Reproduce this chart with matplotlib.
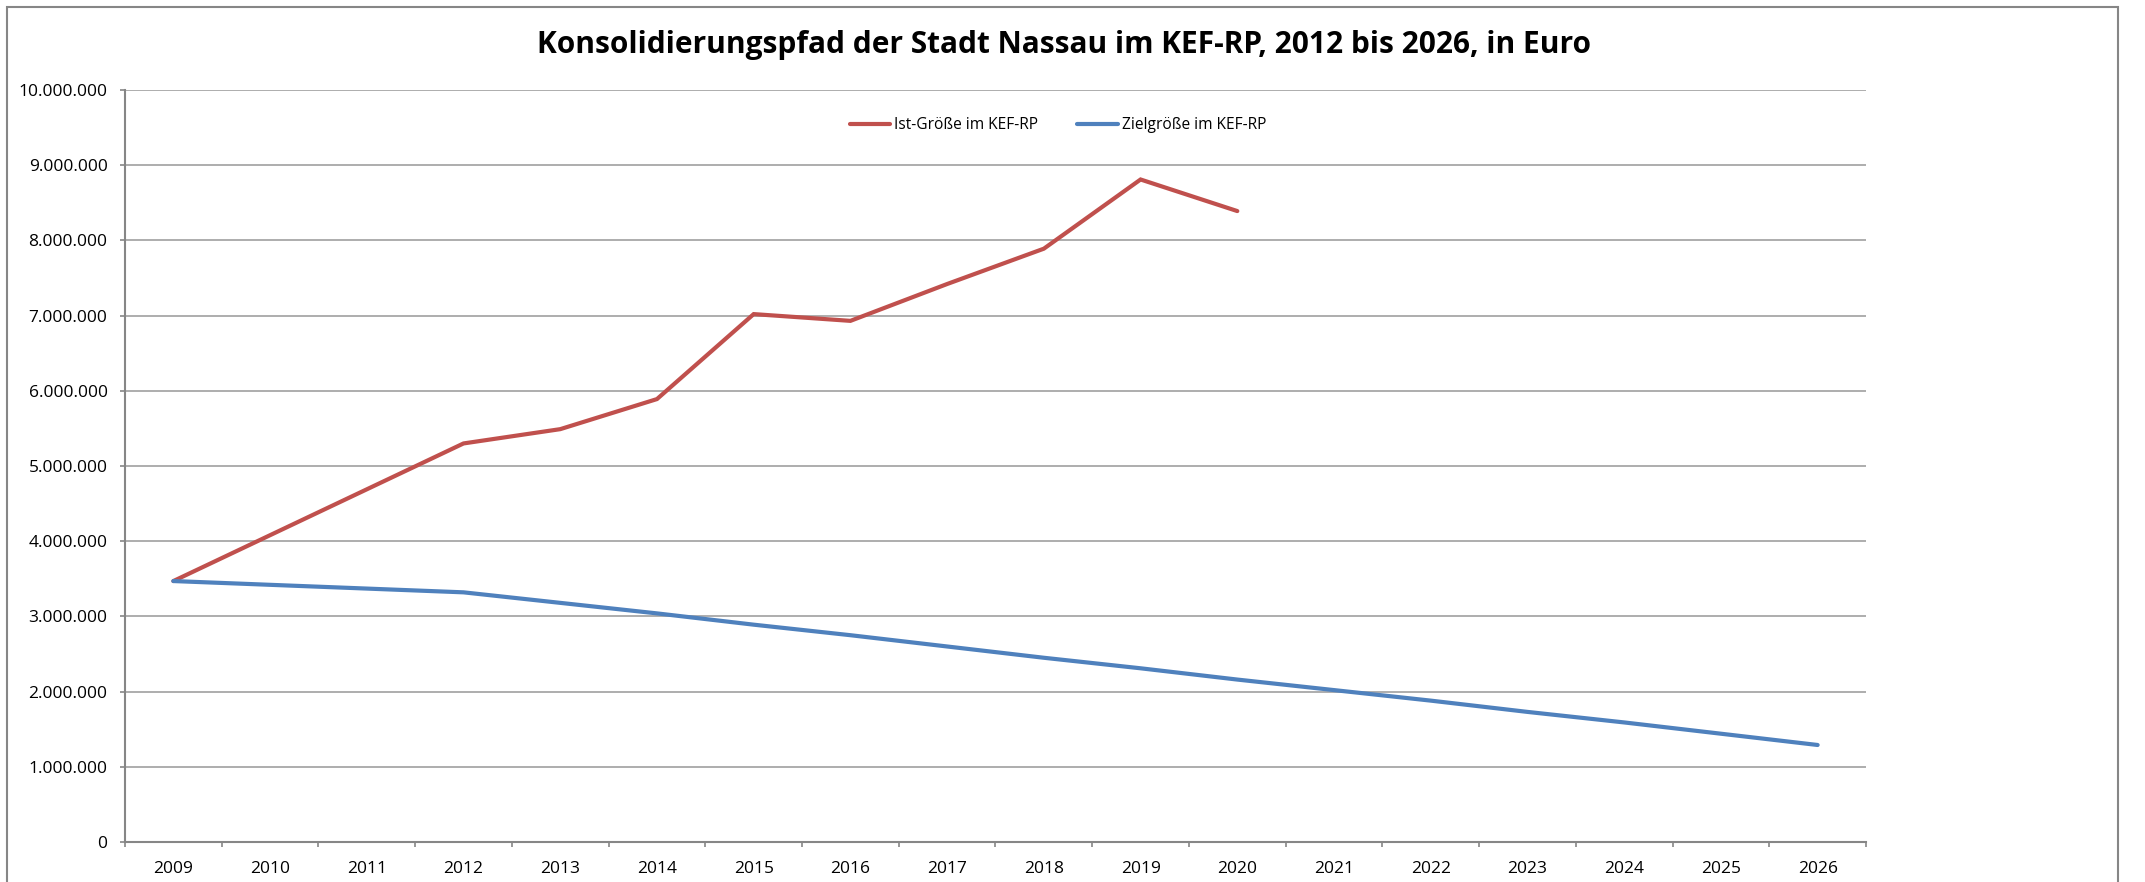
import numpy as np
import matplotlib.pyplot as plt
from matplotlib.patches import Rectangle
from matplotlib.ticker import FuncFormatter, FixedLocator

plt.rcParams['font.family'] = ['Open Sans', 'DejaVu Sans']

years = list(range(2009, 2027))

# Ist-Größe: no values for 2010 and 2011, Excel connects the gap
ist_years = [2009, 2012, 2013, 2014, 2015, 2016, 2017, 2018, 2019, 2020]
ist_values = [3470000, 5300000, 5490000, 5890000, 7020000, 6930000,
              7420000, 7890000, 8810000, 8390000]

ziel_years = [2009, 2012, 2013, 2014, 2015, 2016, 2017, 2018, 2019,
              2020, 2021, 2022, 2023, 2024, 2025, 2026]
ziel_values = [3470000, 3320000, 3180000, 3040000, 2890000, 2750000,
               2600000, 2450000, 2310000, 2160000, 2020000, 1880000,
               1730000, 1590000, 1440000, 1290000]

title = 'Konsolidierungspfad der Stadt Nassau im KEF-RP, 2012 bis 2026, in Euro'
ist_label = 'Ist-Größe im KEF-RP'
ziel_label = 'Zielgröße im KEF-RP'

red = '#C0504D'
blue = '#4F81BD'
grid_col = '#a0a0a0'
axis_col = '#868686'

fig = plt.figure(figsize=(21.45, 8.82), dpi=100)
ax = fig.add_axes([125 / 2145, 1 - 842 / 882, (1866 - 125) / 2145, (842 - 90) / 882])

# outer chart frame
fig.patches.append(Rectangle((7 / 2145, -0.05), (2118 - 7) / 2145, 1.05 - 7 / 882,
                             transform=fig.transFigure, fill=False,
                             edgecolor=axis_col, lw=1.5))

pos = {y: i for i, y in enumerate(years)}
ax.plot([pos[y] for y in ist_years], ist_values, color=red, lw=3,
        solid_joinstyle='miter', solid_capstyle='round', label=ist_label, zorder=3)
ax.plot([pos[y] for y in ziel_years], ziel_values, color=blue, lw=3,
        solid_joinstyle='miter', solid_capstyle='round', label=ziel_label, zorder=3)

ax.set_xlim(-0.5, len(years) - 0.5)
ax.set_ylim(0, 10000000)
ax.set_yticks(np.arange(0, 10000001, 1000000))
ax.yaxis.set_major_formatter(FuncFormatter(lambda v, p: f'{int(v):,}'.replace(',', '.')))
ax.grid(axis='y', color=grid_col, lw=1.2)
ax.set_axisbelow(True)

# category boundaries as ticks, labels centred between them
ax.xaxis.set_major_locator(FixedLocator(np.arange(-0.5, len(years), 1)))
ax.xaxis.set_minor_locator(FixedLocator(np.arange(len(years))))
ax.set_xticklabels([])
ax.set_xticklabels([str(y) for y in years], minor=True)
ax.tick_params(axis='x', which='major', length=3.6, color=axis_col, width=1.2)
ax.tick_params(axis='x', which='minor', length=0, pad=14, labelsize=12.5)
ax.tick_params(axis='y', length=3.6, color=axis_col, width=1.2, pad=9, labelsize=12.5)

for s in ['top', 'right']:
    ax.spines[s].set_visible(False)
for s in ['left', 'bottom']:
    ax.spines[s].set_color(axis_col)
    ax.spines[s].set_linewidth(1.5)

fig.text(1064 / 2145, 1 - 45 / 882, title, ha='center', va='center',
         fontsize=21.5, fontweight='bold')

fig.legend(loc='center', bbox_to_anchor=(1058 / 2145, 1 - 125 / 882), ncol=2,
           frameon=False, fontsize=11.2, handlelength=2.6, handletextpad=0.25,
           columnspacing=2.5)

fig.savefig('out.png', dpi=100)
